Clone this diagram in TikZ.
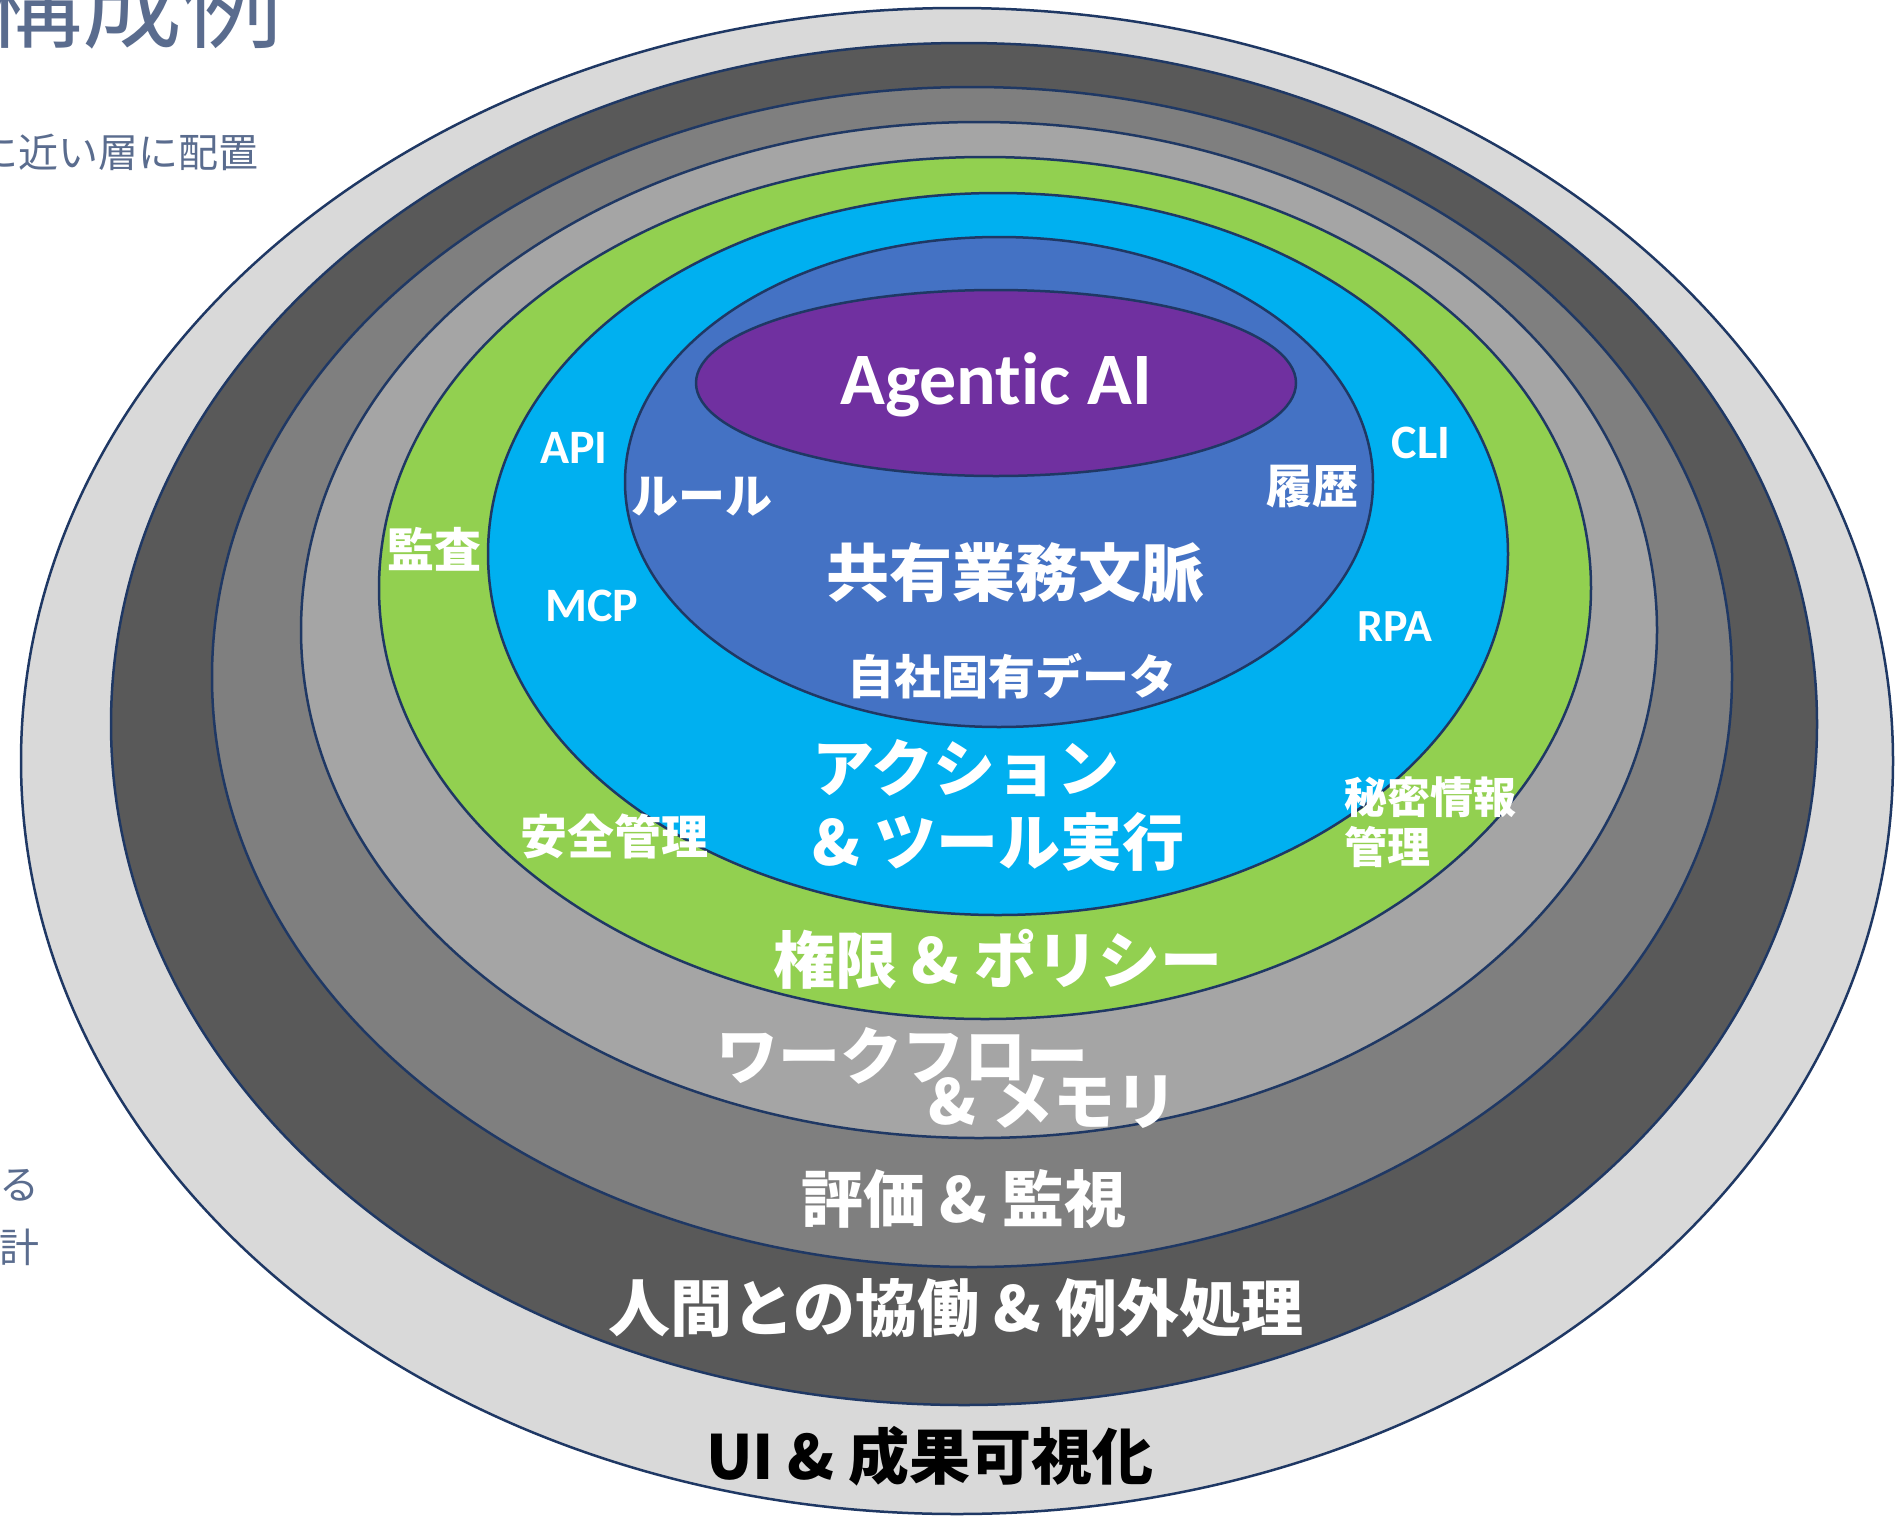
\documentclass[tikz,border=0pt]{standalone}
\usepackage{fontspec}
\newfontfamily\jpfont{Noto Sans CJK JP}
\newfontfamily\calfont{Carlito}[Ligatures=NoCommon]
\definecolor{lay1}{HTML}{D9D9D9}
\definecolor{lay2}{HTML}{595959}
\definecolor{lay3}{HTML}{7F7F7F}
\definecolor{lay4}{HTML}{A5A5A5}
\definecolor{lay5}{HTML}{92D050}
\definecolor{lay6}{HTML}{00B0F0}
\definecolor{lay7}{HTML}{4472C4}
\definecolor{lay8}{HTML}{7030A0}
\definecolor{rim}{HTML}{1F3864}
\definecolor{slate}{HTML}{5A6C8E}
\tikzset{
  layer/.style={draw=rim, line width=2.5pt, fill=#1},
  jl/.style={text=white, inner sep=0pt, font=\jpfont\bfseries\fontsize{#1}{#1}\selectfont},
  el/.style={text=white, inner sep=0pt, font=\calfont\bfseries\fontsize{#1}{#1}\selectfont},
  side/.style={text=slate, inner sep=0pt, font=\jpfont\fontsize{#1}{#1}\selectfont}
}
\begin{document}
\begin{tikzpicture}[x=1pt,y=-1pt]
\useasboundingbox (0,0) rectangle (1899,1518);
\clip (0,0) rectangle (1899,1518);
\fill[white] (0,0) rectangle (1899,1518);
% layers
\path[layer=lay1] (957,761) ellipse [x radius=936pt, y radius=753pt];
\path[layer=lay2] (964,724) ellipse [x radius=853pt, y radius=681pt];
\path[layer=lay3] (972,677) ellipse [x radius=760pt, y radius=590pt];
\path[layer=lay4] (979,630) ellipse [x radius=678pt, y radius=508pt];
\path[layer=lay5] (985,588) ellipse [x radius=606pt, y radius=431pt];
\path[layer=lay6] (998,554) ellipse [x radius=510pt, y radius=361pt];
\path[layer=lay7] (999,482) ellipse [x radius=374pt, y radius=245pt];
\path[layer=lay8] (996,383) ellipse [x radius=300pt, y radius=93pt];
% side texts
\node[side=100, anchor=base east] (title) at (283,40) {構成例};
\node[side=40, anchor=base east] (sub) at (259,167) {に近い層に配置};
\node[side=40, anchor=base east] (ru) at (40,1199) {る};
\node[side=40, anchor=base east] (kei) at (40,1262) {計};
% labels
\node[el=74] (agentic) at (996,385) {Agentic AI};
\node[jl=63] (ctx) at (1015,573) {共有業務文脈};
\node[jl=47] (data) at (1012,676) {自社固有データ};
\node[jl=47] (rule) at (702,497) {ルール};
\node[jl=46] (hist) at (1312,487) {履歴};
\node[el=48] (api) at (574,448) {API};
\node[el=48] (mcp) at (592,606) {MCP};
\node[el=48] (cli) at (1421,443) {CLI};
\node[el=46] (rpa) at (1395,627) {RPA};
\node[jl=47] (audit) at (434,549) {監査};
\node[jl=47] (safe) at (614,836) {安全管理};
\node[jl=43, align=left, anchor=north west] (secret) at (1344,777) {秘密情報\\[7pt]管理};
\node[jl=62, align=left, anchor=north west] (act) at (812,739) {アクション\\[12pt]\& ツール実行};
\node[jl=62] (perm) at (998,959) {権限 \& ポリシー};
\node[jl=62] (wf1) at (902,1056) {ワークフロー};
\node[jl=62] (wf2) at (1053,1102) {\& メモリ};
\node[jl=62] (eval) at (964,1199) {評価 \& 監視};
\node[jl=62] (human) at (956,1308) {人間との協働 \& 例外処理};
\node[jl=61, text=black] (ui) at (930,1456) {UI \& 成果可視化};
\end{tikzpicture}
\end{document}
